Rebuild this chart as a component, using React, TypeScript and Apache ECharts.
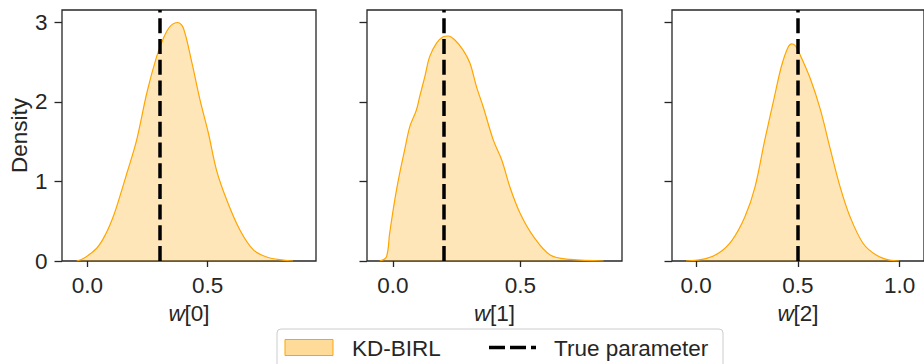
import React, { useEffect, useRef } from "react";
import * as echarts from "echarts";

// KDE curves: [x, density]
const kde0: [number, number][] = [
  [-0.044, 0], [-0.016, 0.03], [0.039, 0.16], [0.075, 0.33], [0.108, 0.56], [0.136, 0.82],
  [0.164, 1.1], [0.205, 1.52], [0.247, 2.11], [0.288, 2.57], [0.316, 2.8], [0.344, 2.95],
  [0.376, 3.0], [0.399, 2.93], [0.434, 2.5], [0.468, 2.03], [0.503, 1.61], [0.537, 1.14],
  [0.579, 0.77], [0.634, 0.39], [0.69, 0.14], [0.745, 0.05], [0.814, 0.01], [0.855, 0],
];
const kde1: [number, number][] = [
  [-0.052, 0], [-0.026, 0.05], [-0.013, 0.35], [0.007, 0.77], [0.026, 1.1], [0.046, 1.4],
  [0.066, 1.69], [0.092, 1.9], [0.105, 2.07], [0.125, 2.32], [0.144, 2.57], [0.171, 2.74],
  [0.197, 2.82], [0.217, 2.83], [0.243, 2.78], [0.276, 2.65], [0.302, 2.49], [0.328, 2.19],
  [0.354, 1.94], [0.394, 1.52], [0.427, 1.27], [0.459, 0.93], [0.499, 0.6], [0.551, 0.31],
  [0.617, 0.075], [0.696, 0.02], [0.827, 0],
];
const kde2: [number, number][] = [
  [-0.05, 0], [0.047, 0.03], [0.111, 0.1], [0.176, 0.26], [0.24, 0.56], [0.289, 0.93],
  [0.337, 1.52], [0.385, 2.07], [0.418, 2.44], [0.45, 2.68], [0.471, 2.73], [0.49, 2.7],
  [0.515, 2.57], [0.563, 2.28], [0.611, 1.9], [0.66, 1.4], [0.708, 0.93], [0.756, 0.56],
  [0.821, 0.22], [0.885, 0.075], [0.95, 0.01], [0.998, 0],
];
const trueParams = [0.3, 0.2, 0.5];
const axisNames = ["0", "1", "2"];
const xTicks = [[0, 0.5], [0, 0.5], [0, 0.5, 1.0]];
const xRanges: [number, number][] = [[-0.105, 0.95], [-0.102, 0.899], [-0.119, 1.12]];
const yTicks = [0, 1, 2, 3];
const yMax = 3.157;
const seriesName = "KD-BIRL";
const lineName = "True parameter";

const FONT = "Liberation Sans, Arial, sans-serif";
const FS = 22.5;
const TXT = "#262626";
const ORANGE = "#ffa500";
const FILL = "rgba(255,165,0,0.4)";
const DASH = [15, 5.7];

export default function App() {
  const ref = useRef<HTMLDivElement>(null);
  useEffect(() => {
    if (!ref.current) return;
    const chart = echarts.init(ref.current, undefined, { renderer: "svg" });
    const kdes = [kde0, kde1, kde2];
    const grids = [
      { left: 62, width: 254 },
      { left: 367, width: 255 },
      { left: 672, width: 256 },
    ].map((g) => ({
      ...g,
      top: 10,
      height: 251,
      show: true,
      borderColor: TXT,
      borderWidth: 1.3,
      backgroundColor: "transparent",
    }));
    const xAxis = kdes.map((_, i) => ({
      type: "value",
      gridIndex: i,
      min: xRanges[i][0],
      max: xRanges[i][1],
      axisLine: { show: false, onZero: false },
      splitLine: { show: false },
      axisTick: { show: true, length: 6, lineStyle: { color: TXT, width: 1.3 }, customValues: xTicks[i] },
      axisLabel: {
        show: true,
        customValues: xTicks[i],
        formatter: (v: number) => v.toFixed(1),
        fontSize: FS,
        color: TXT,
        fontFamily: FONT,
        margin: 13,
      },
      name: "{i|w}[" + axisNames[i] + "]",
      nameLocation: "middle",
      nameGap: 40,
      nameTextStyle: {
        fontSize: FS,
        color: TXT,
        fontFamily: FONT,
        rich: { i: { fontStyle: "italic", fontSize: FS, color: TXT, fontFamily: FONT } },
      },
    }));
    const yAxis = kdes.map((_, i) => ({
      type: "value",
      gridIndex: i,
      min: 0,
      max: yMax,
      axisLine: { show: false, onZero: false },
      splitLine: { show: false },
      axisTick: { show: true, length: 7.5, lineStyle: { color: TXT, width: 1.3 }, customValues: yTicks },
      axisLabel: {
        show: i === 0,
        customValues: yTicks,
        fontSize: FS,
        color: TXT,
        fontFamily: FONT,
        margin: 14.5,
      },
      name: i === 0 ? "Density" : "",
      nameLocation: "middle",
      nameGap: 31,
      nameTextStyle: { fontSize: FS, color: TXT, fontFamily: FONT },
    }));
    const series = kdes.map((d, i) => ({
      type: "line",
      name: seriesName,
      xAxisIndex: i,
      yAxisIndex: i,
      data: d,
      smooth: 0.35,
      showSymbol: false,
      symbol: "none",
      lineStyle: { color: ORANGE, width: 1.2 },
      areaStyle: { color: FILL },
      z: 2,
      markLine: {
        silent: true,
        symbol: ["none", "none"],
        label: { show: false },
        lineStyle: { color: "#000", width: 3.5, type: DASH },
        data: [{ xAxis: trueParams[i] }],
        z: 5,
      },
    }));
    chart.setOption({
      animation: false,
      grid: grids,
      xAxis,
      yAxis,
      series,
      graphic: [
        {
          type: "rect",
          shape: { x: 277, y: 329, width: 446, height: 50, r: 4 },
          style: { fill: "#fff", stroke: "#cccccc", lineWidth: 1 },
          z: 10,
        },
        {
          type: "rect",
          shape: { x: 285, y: 339.5, width: 48, height: 16 },
          style: { fill: FILL, stroke: ORANGE, lineWidth: 1 },
          z: 11,
        },
        {
          type: "text",
          x: 352,
          y: 348,
          style: { text: seriesName, fontSize: FS, fill: TXT, fontFamily: FONT, verticalAlign: "middle" },
          z: 11,
        },
        {
          type: "line",
          shape: { x1: 489, y1: 347.5, x2: 536, y2: 347.5 },
          style: { stroke: "#000", lineWidth: 3.5, lineDash: [16, 5] },
          z: 11,
        },
        {
          type: "text",
          x: 554,
          y: 348,
          style: { text: lineName, fontSize: FS, fill: TXT, fontFamily: FONT, verticalAlign: "middle" },
          z: 11,
        },
      ],
    });
    return () => chart.dispose();
  }, []);
  return (
    <div
      ref={ref}
      style={{ position: "fixed", left: 0, top: 0, width: 924, height: 364, background: "#fff" }}
    />
  );
}
